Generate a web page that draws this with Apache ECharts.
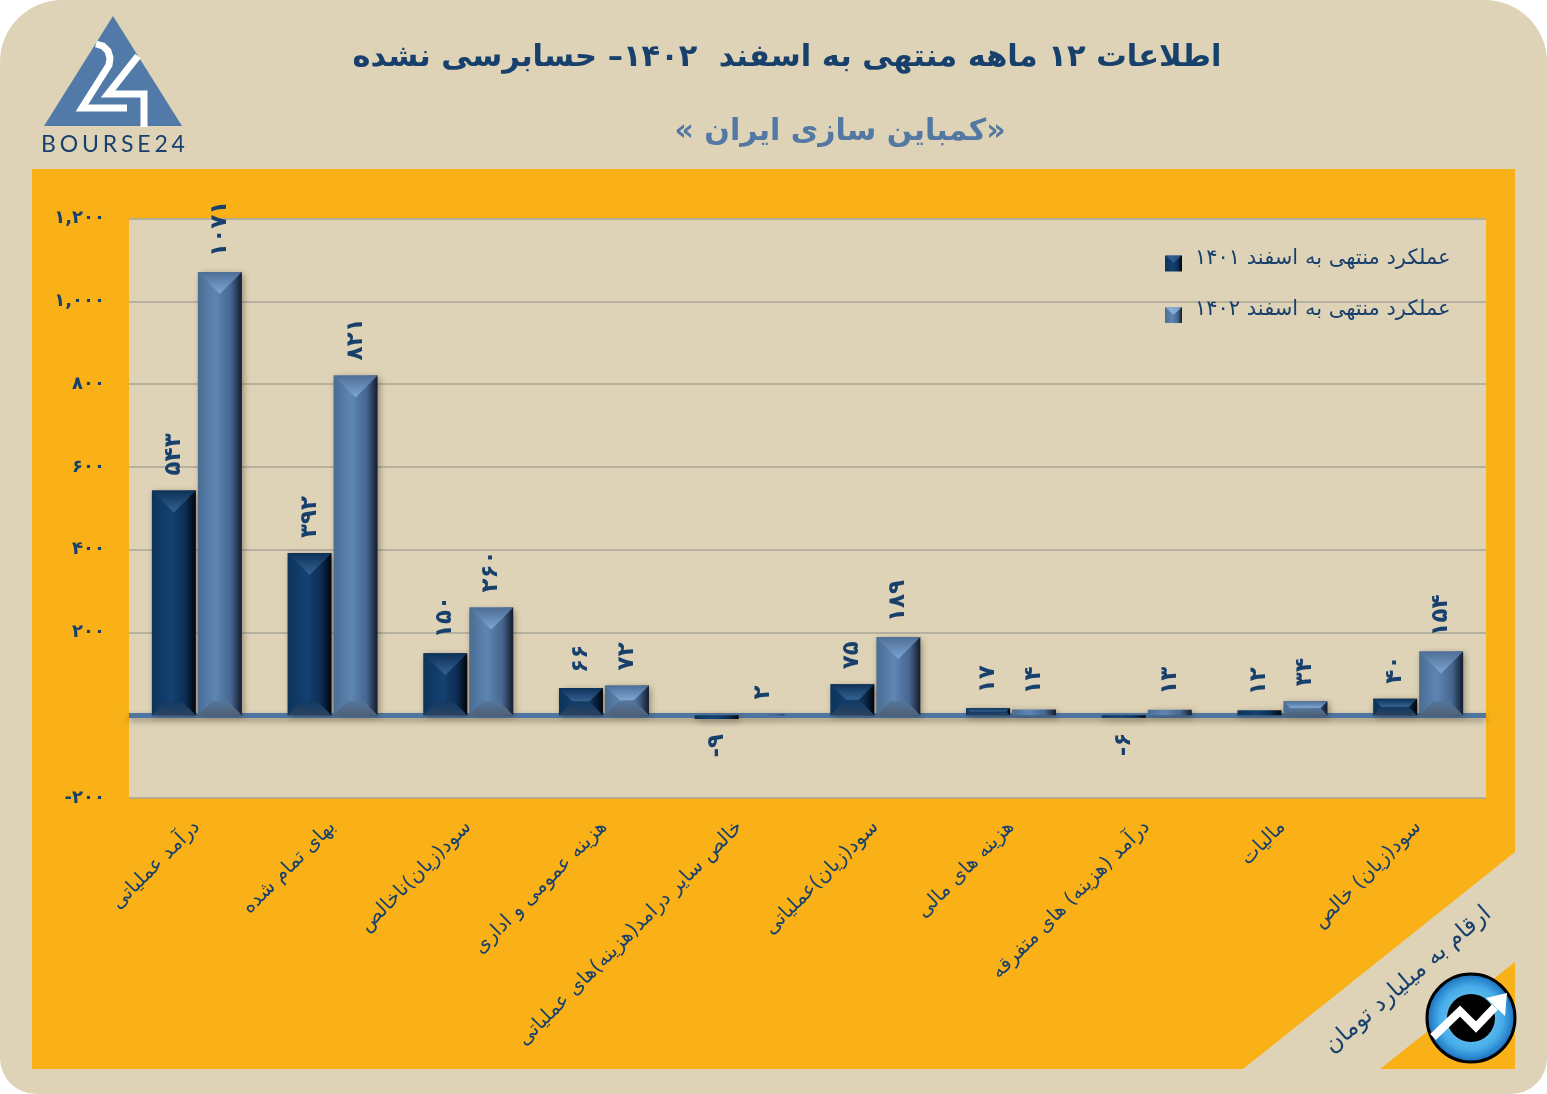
<!DOCTYPE html>
<html>
<head>
<meta charset="utf-8">
<title>کمباین سازی ایران</title>
<script src="https://cdn.jsdelivr.net/npm/echarts@6/dist/echarts.min.js"></script>
<style>
  html, body { margin: 0; padding: 0; background: #ffffff; }
  #main { width: 1547px; height: 1094px; }
</style>
</head>
<body>
<div id="main"></div>
<script>
var categories = [
  "درآمد عملیاتی",
  "بهای تمام شده",
  "سود(زیان)ناخالص",
  "هزینه عمومی و اداری",
  "خالص سایر درامد(هزینه)های عملیاتی",
  "سود(زیان)عملیاتی",
  "هزینه های مالی",
  "درآمد (هزینه) های متفرقه",
  "مالیات",
  "سود(زیان) خالص",
];
var values1401 = [543, 392, 150, 66, -9, 75, 17, -6, 12, 40];
var values1402 = [1071, 821, 260, 72, 2, 189, 14, 13, 34, 154];
var name1401 = "عملکرد منتهی به اسفند ۱۴۰۱";
var name1402 = "عملکرد منتهی به اسفند ۱۴۰۲";
var titleText = "اطلاعات ۱۲ ماهه منتهی به اسفند  ۱۴۰۲– حسابرسی نشده";
var subtitleText = "\u200F«کمباین سازی ایران »\u200F";
var unitText = "ارقام به میلیارد تومان";

var FONT = '"DejaVu Sans"';
var NAVY = "#17406d";
var SAND = "#dfd3b7";
var ORANGE = "#f9b117";
var BAR_W = 44;
var BAR_GAP = 2;

function faDigits(v) {
  return String(v).replace(/\d/g, function (d) {
    return "۰۱۲۳۴۵۶۷۸۹"[d];
  });
}

function hGrad(stops) {
  return new echarts.graphic.LinearGradient(0, 0, 1, 0, stops);
}
function vGrad(a, b) {
  return new echarts.graphic.LinearGradient(0, 0, 0, 1, [
    { offset: 0, color: a },
    { offset: 1, color: b },
  ]);
}

var fill1401 = hGrad([
  { offset: 0, color: "#0d3359" },
  { offset: 0.45, color: "#134272" },
  { offset: 0.75, color: "#0c2e54" },
  { offset: 1, color: "#01050c" },
]);
var fill1402 = hGrad([
  { offset: 0, color: "#4a6c94" },
  { offset: 0.4, color: "#5f86b3" },
  { offset: 0.75, color: "#45668f" },
  { offset: 1, color: "#121b2b" },
]);

function barData(values) {
  return values.map(function (v) {
    return {
      value: v,
      label:
        v < 0
          ? { position: "bottom", align: "right" }
          : { position: "top", align: "left" },
    };
  });
}

function barSeries(name, values, fill) {
  return {
    name: name,
    type: "bar",
    barWidth: BAR_W,
    barGap: (BAR_GAP / BAR_W) * 100 + "%",
    data: barData(values),
    itemStyle: {
      color: fill,
      shadowColor: "rgba(40,35,20,0.45)",
      shadowBlur: 7,
      shadowOffsetX: 2,
      shadowOffsetY: 2,
    },
    label: {
      show: true,
      rotate: 90,
      distance: 15,
      verticalAlign: "middle",
      fontFamily: FONT,
      fontWeight: "bold",
      fontSize: 23,
      color: NAVY,
      formatter: function (p) {
        return faDigits(p.value);
      },
    },
  };
}

// pyramid facets on top of each bar
function bevelSeries(values, side, topA, topB, bottomA, bottomB) {
  return {
    type: "custom",
    silent: true,
    z: 5,
    clip: false,
    data: values.map(function (v, i) {
      return [i, v];
    }),
    encode: { x: 0, y: 1 },
    renderItem: function (params, api) {
      var top = api.coord([api.value(0), api.value(1)]);
      var base = api.coord([api.value(0), 0]);
      var h = Math.abs(base[1] - top[1]);
      if (h < 6) return { type: "group", children: [] };
      var x0 = top[0] + (side * (BAR_W + BAR_GAP)) / 2 - BAR_W / 2;
      var x1 = x0 + BAR_W;
      var yTop = Math.min(top[1], base[1]);
      var yBot = Math.max(top[1], base[1]);
      var bt = Math.min(22, h / 2);
      var bb = Math.min(14, h / 2);
      return {
        type: "group",
        children: [
          {
            type: "polygon",
            shape: {
              points: [
                [x0, yTop],
                [x1, yTop],
                [x1 - bt, yTop + bt],
                [x0 + bt, yTop + bt],
              ],
            },
            style: { fill: vGrad(topA, topB) },
          },
          {
            type: "polygon",
            shape: {
              points: [
                [x0, yBot],
                [x0 + bb, yBot - bb],
                [x1 - bb, yBot - bb],
                [x1, yBot],
              ],
            },
            style: { fill: vGrad(bottomA, bottomB) },
          },
        ],
      };
    },
  };
}

function legendIcon(x, y, light) {
  return {
    type: "polygon",
    z: 100,
    shape: {
      points: [
        [x, y],
        [x + 17, y],
        [x + 8.5, y + 8],
      ],
    },
    style: { fill: light },
  };
}

var decorations = [
  // page and orange panel
  {
    type: "rect",
    z: -3,
    shape: { x: 0, y: 0, width: 1547, height: 1094, r: [62, 62, 36, 36] },
    style: { fill: SAND },
  },
  {
    type: "polygon",
    z: -2,
    shape: {
      points: [
        [32, 169],
        [1515, 169],
        [1515, 852],
        [1243, 1069],
        [32, 1069],
      ],
    },
    style: { fill: ORANGE },
  },
  {
    type: "polygon",
    z: -2,
    shape: {
      points: [
        [1515, 962],
        [1515, 1069],
        [1380, 1069],
      ],
    },
    style: { fill: ORANGE },
  },
  // titles
  {
    type: "text",
    z: 100,
    style: {
      x: 787,
      y: 58,
      text: titleText,
      align: "center",
      verticalAlign: "middle",
      font: "bold 30.5px " + FONT,
      fill: NAVY,
    },
  },
  {
    type: "text",
    z: 100,
    style: {
      x: 840,
      y: 132,
      text: subtitleText,
      align: "center",
      verticalAlign: "middle",
      font: "bold 30px " + FONT,
      fill: "#5278a3",
    },
  },
  {
    type: "text",
    z: 100,
    x: 1408,
    y: 980,
    rotation: (40.8 * Math.PI) / 180,
    style: {
      x: 0,
      y: 0,
      text: unitText,
      align: "center",
      verticalAlign: "middle",
      font: "23.5px " + FONT,
      fill: NAVY,
    },
  },
  // bourse24 logo
  {
    type: "polygon",
    z: 100,
    shape: {
      points: [
        [113, 16],
        [182, 126],
        [44, 126],
      ],
    },
    style: { fill: "#527aa8" },
  },
  {
    type: "polyline",
    z: 101,
    shape: {
      points: [
        [96, 44],
        [103, 46],
        [108, 51],
        [110, 58],
        [109, 65],
        [82, 108],
        [127, 108],
      ],
    },
    style: { fill: "none", stroke: "#ffffff", lineWidth: 7 },
  },
  {
    type: "polyline",
    z: 101,
    shape: {
      points: [
        [138, 56],
        [108, 94],
        [144, 94],
        [144, 127],
      ],
    },
    style: { fill: "none", stroke: "#ffffff", lineWidth: 7 },
  },
  {
    type: "text",
    z: 100,
    style: {
      x: 113,
      y: 145,
      text: "B\u2006O\u2006U\u2006R\u2006S\u2006E\u20062\u20064",
      align: "center",
      verticalAlign: "middle",
      font: "23px Lato",
      fill: NAVY,
    },
  },
  // arrow badge
  {
    type: "circle",
    z: 100,
    shape: { cx: 1471, cy: 1018, r: 44 },
    style: {
      fill: new echarts.graphic.RadialGradient(0.5, 0.5, 0.5, [
        { offset: 0, color: "#8fd8fa" },
        { offset: 0.7, color: "#46ace8" },
        { offset: 1, color: "#1468b8" },
      ]),
      stroke: "#000000",
      lineWidth: 3,
    },
  },
  {
    type: "circle",
    z: 101,
    shape: { cx: 1471, cy: 1018, r: 24 },
    style: { fill: "#000000" },
  },
  {
    type: "polyline",
    z: 102,
    shape: {
      points: [
        [1433, 1037],
        [1460, 1011],
        [1476, 1027],
        [1495, 1007],
      ],
    },
    style: { fill: "none", stroke: "#ffffff", lineWidth: 8 },
  },
  {
    type: "polygon",
    z: 102,
    shape: {
      points: [
        [1507, 993],
        [1505, 1016],
        [1486, 998],
      ],
    },
    style: { fill: "#ffffff" },
  },
  legendIcon(1165, 255, "rgba(70,115,165,0.55)"),
  legendIcon(1165, 307, "rgba(150,185,225,0.75)"),
];

var chart = echarts.init(document.getElementById("main"), null, {
  renderer: "canvas",
});

chart.setOption({
  animation: false,
  graphic: decorations,
  grid: {
    left: 129,
    right: 61,
    top: 218.5,
    bottom: 296,
    show: true,
    backgroundColor: SAND,
    borderWidth: 0,
  },
  legend: {
    left: 1165,
    top: 248,
    padding: 0,
    orient: "vertical",
    icon: "rect",
    itemWidth: 17,
    itemHeight: 16,
    itemGap: 28,
    data: [
      { name: name1401, itemStyle: { color: fill1401 } },
      { name: name1402, itemStyle: { color: fill1402 } },
    ],
    formatter: "{t|{name}}",
    textStyle: {
      rich: {
        t: {
          fontFamily: FONT,
          fontSize: 21,
          color: NAVY,
          padding: [0, 0, 10, 8],
        },
      },
    },
  },
  xAxis: {
    type: "category",
    data: categories,
    axisLine: { show: false, onZero: false },
    axisTick: { show: false },
    axisLabel: {
      interval: 0,
      rotate: 45,
      margin: 26,
      fontFamily: FONT,
      fontSize: 20,
      color: NAVY,
    },
  },
  yAxis: {
    type: "value",
    min: -200,
    max: 1200,
    interval: 200,
    axisLine: { show: false },
    axisTick: { show: false },
    splitLine: { lineStyle: { color: "#a8a496", width: 1.5 } },
    axisLabel: {
      margin: 24,
      fontFamily: FONT,
      fontWeight: "bold",
      fontSize: 18,
      color: NAVY,
      padding: [0, 0, 8, 0],
      formatter: function (v) {
        if (v === 0) return "";
        return faDigits(echarts.format.addCommas(v));
      },
    },
  },
  series: [
    Object.assign(barSeries(name1401, values1401, fill1401), {
      markLine: {
        silent: true,
        symbol: "none",
        z: 1,
        label: { show: false },
        data: [{ yAxis: 0 }],
        lineStyle: {
          type: "solid",
          color: "#4f76a3",
          width: 5,
          shadowColor: "rgba(40,35,20,0.4)",
          shadowBlur: 6,
          shadowOffsetY: 3,
        },
      },
    }),
    barSeries(name1402, values1402, fill1402),
    bevelSeries(values1401, -1, "#0d3158", "#356292", "#123a63", "#2a4260"),
    bevelSeries(values1402, 1, "#4d6e96", "#7fa6d4", "#557699", "#4f6078"),
  ],
});
</script>
</body>
</html>
